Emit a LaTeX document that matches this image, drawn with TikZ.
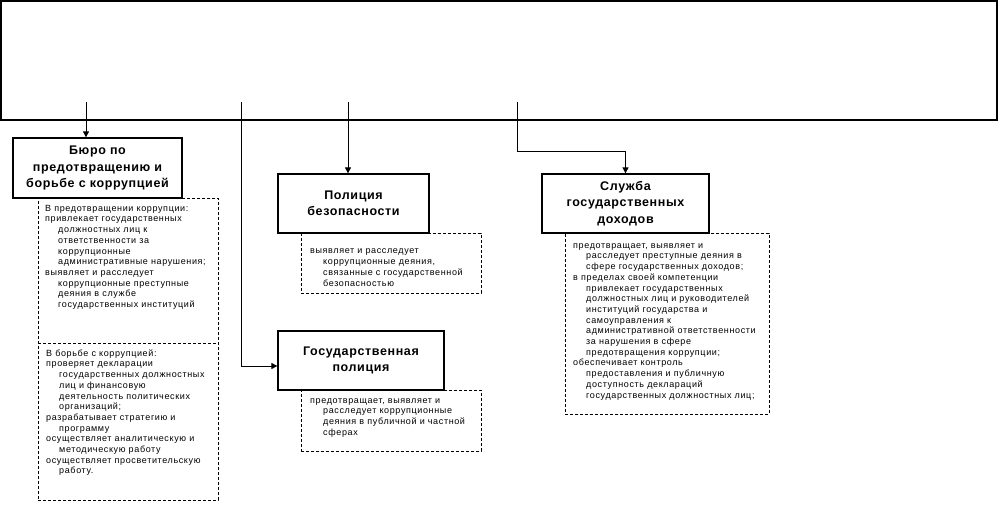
\documentclass[tikz,border=0pt]{standalone}
\usepackage{fontspec}
\setmainfont{Liberation Sans}
\newfontfamily\bodyfont[LetterSpace=7]{Liberation Sans}
\newfontfamily\titlefont[LetterSpace=5]{Liberation Sans}
\usetikzlibrary{arrows.meta}
\newcommand\myind{\hspace*{13pt}}
\begin{document}
\begin{tikzpicture}[x=1pt,y=-1pt,
  topbox/.style={draw, line width=1.4pt, inner sep=0, minimum width=996pt, minimum height=119pt},
  solidbox/.style={draw, line width=1.3pt, fill=white, inner sep=0, align=center,
     font=\titlefont\bfseries\fontsize{12.5}{16.5}\selectfont},
  dashbox/.style={draw, line width=0.9pt, dash pattern=on 3pt off 2pt, inner sep=0},
  dashline/.style={line width=0.9pt, dash pattern=on 3pt off 2pt},
  body/.style={anchor=north west, align=left, inner sep=0,
     font=\bodyfont\fontsize{9}{10.7}\selectfont},
  conn/.style={line width=0.9pt, -{Triangle[length=6pt,width=6pt]}}]
\useasboundingbox (0,0) rectangle (998,512);

\node[topbox] (top) at (499,60.5) {};

% dashed description boxes (drawn first)
\node[dashbox, minimum width=180pt, minimum height=302pt] (burd) at (128,349) {};
\node[dashbox, minimum width=180pt, minimum height=60pt] (pbd) at (391,263) {};
\node[dashbox, minimum width=180pt, minimum height=61pt] (gpd) at (391,420.5) {};
\node[dashbox, minimum width=204pt, minimum height=181pt] (sld) at (667,323.5) {};
\coordinate (dl) at (38,343);
\coordinate (dr) at (218,343);
\draw[dashline] (dl) -- (dr);

% solid title boxes
\node[solidbox, minimum width=169pt, minimum height=60pt] (bur) at (97.5,168)
  {Бюро по\\предотвращению и\\борьбе с коррупцией};
\node[solidbox, minimum width=151pt, minimum height=59pt] (pb) at (353.5,203.5)
  {Полиция\\безопасности};
\node[solidbox, minimum width=166pt, minimum height=59pt] (gp) at (361,360.5)
  {Государственная\\полиция};
\node[solidbox, minimum width=167pt, minimum height=59pt] (sl) at (625.5,203.5)
  {Служба\\государственных\\доходов};

% connectors
\coordinate (c1) at (86,102);
\coordinate (c2) at (241,102);
\coordinate (c3) at (348,102);
\coordinate (c4) at (517,102);
\draw[conn] (c1) -- (c1 |- bur.north);
\draw[conn] (c2) |- ([yshift=-5.5pt]gp.west);
\draw[conn] (c3) -- (c3 |- pb.north);
\draw[conn] (c4) -- ++(0,49) -| (sl.north);

% texts
\node[body] (t1) at (45,204) {\rule{0pt}{7pt}В предотвращении коррупции:\\
привлекает государственных\\
\myind должностных лиц к\\
\myind ответственности за\\
\myind коррупционные\\
\myind административные нарушения;\\
выявляет и расследует\\
\myind коррупционные преступные\\
\myind деяния в службе\\
\myind государственных институций};

\node[body] (t2) at (46,349) {\rule{0pt}{7pt}В борьбе с коррупцией:\\
проверяет декларации\\
\myind государственных должностных\\
\myind лиц и финансовую\\
\myind деятельность политических\\
\myind организаций;\\
разрабатывает стратегию и\\
\myind программу\\
осуществляет аналитическую и\\
\myind методическую работу\\
осуществляет просветительскую\\
\myind работу.};

\node[body] (t3) at (310,246.7) {\rule{0pt}{7pt}выявляет и расследует\\
\myind коррупционные деяния,\\
\myind связанные с государственной\\
\myind безопасностью};

\node[body] (t4) at (310,396) {\rule{0pt}{7pt}предотвращает, выявляет и\\
\myind расследует коррупционные\\
\myind деяния в публичной и частной\\
\myind сферах};

\node[body] (t5) at (573,241) {\rule{0pt}{7pt}предотвращает, выявляет и\\
\myind расследует преступные деяния в\\
\myind сфере государственных доходов;\\
в пределах своей компетенции\\
\myind привлекает государственных\\
\myind должностных лиц и руководителей\\
\myind институций государства и\\
\myind самоуправления к\\
\myind административной ответственности\\
\myind за нарушения в сфере\\
\myind предотвращения коррупции;\\
обеспечивает контроль\\
\myind предоставления и публичную\\
\myind доступность деклараций\\
\myind государственных должностных лиц;};
\end{tikzpicture}
\end{document}
